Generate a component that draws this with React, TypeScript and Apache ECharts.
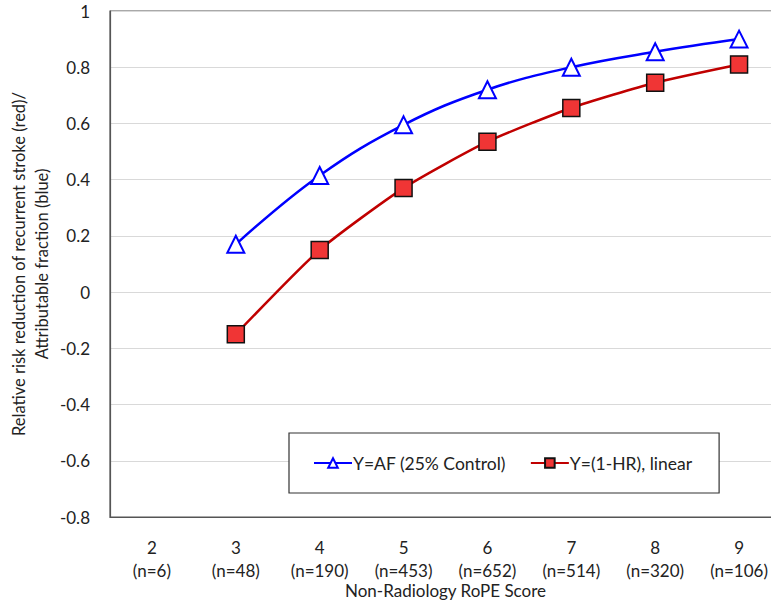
import React, { useEffect, useRef } from "react";
import * as echarts from "echarts";

const scores = ["2", "3", "4", "5", "6", "7", "8", "9"];
const counts = ["n=6", "n=48", "n=190", "n=453", "n=652", "n=514", "n=320", "n=106"];
const afValues: (number | null)[] = [null, 0.17, 0.415, 0.595, 0.72, 0.8, 0.855, 0.9];
const hrValues: (number | null)[] = [null, -0.15, 0.15, 0.37, 0.535, 0.655, 0.745, 0.81];
const seriesNames = ["Y=AF (25% Control)", "Y=(1-HR), linear"];

const FONT = "Lato, 'Open Sans', sans-serif";
const FS = 17;

export default function App() {
  const ref = useRef<HTMLDivElement>(null);
  useEffect(() => {
    document.body.style.margin = "0";
    if (!ref.current) return;
    const chart = echarts.init(ref.current, null, { renderer: "svg" });
    chart.setOption({
      animation: false,
      backgroundColor: "#ffffff",
      textStyle: { fontFamily: FONT },
      grid: {
        left: 110,
        top: 11,
        right: -10,
        bottom: 95,
        show: true,
        borderColor: "#555",
        borderWidth: 1.2,
        containLabel: false,
        outerBoundsMode: "none",
      },
      legend: {
        left: 289,
        top: 433,
        padding: [21, 27, 21, 24],
        itemGap: 24,
        itemWidth: 38,
        itemHeight: 12,
        backgroundColor: "#fff",
        borderColor: "#333",
        borderWidth: 1.2,
        textStyle: { fontSize: 17.5, color: "#222", fontFamily: FONT, padding: [0, 0, 0, -4] },
        data: seriesNames,
      },
      xAxis: {
        type: "category",
        data: scores.map((s, i) => s + "\n(" + counts[i] + ")"),
        boundaryGap: true,
        name: "Non-Radiology RoPE Score",
        nameLocation: "middle",
        nameGap: 65,
        nameMoveOverlap: false,
        nameTextStyle: { fontSize: FS, color: "#222", fontFamily: FONT },
        axisLine: { onZero: false, lineStyle: { color: "#555", width: 1.2 } },
        axisTick: { show: false },
        axisLabel: { fontSize: FS, color: "#222", lineHeight: 23, margin: 19, fontFamily: FONT },
        splitLine: { show: false },
      },
      yAxis: {
        type: "value",
        min: -0.8,
        max: 1,
        interval: 0.2,
        name: "Relative risk reduction of recurrent stroke (red)/\nAttributable fraction (blue)",
        nameLocation: "middle",
        nameGap: 57,
        nameMoveOverlap: false,
        nameRotate: 90,
        nameTextStyle: { fontSize: 16.5, color: "#222", lineHeight: 23, fontFamily: FONT },
        axisLine: { show: true, lineStyle: { color: "#555", width: 1.2 } },
        axisTick: { show: false },
        axisLabel: {
          fontSize: FS,
          color: "#222",
          margin: 20,
          fontFamily: FONT,
          formatter: (v: number) => String(Math.round(v * 10) / 10),
        },
        splitLine: { show: true, lineStyle: { color: "#d9d9d9", width: 1 } },
      },
      series: [
        {
          name: seriesNames[0],
          type: "line",
          data: afValues,
          smooth: 0.4,
          symbol: "triangle",
          symbolSize: 17,
          lineStyle: { color: "#0000ff", width: 2.5 },
          itemStyle: { color: "#ffffff", borderColor: "#0000ff", borderWidth: 2 },
          z: 3,
        },
        {
          name: seriesNames[1],
          type: "line",
          data: hrValues,
          smooth: 0.2,
          symbol: "rect",
          symbolSize: 17,
          lineStyle: { color: "#c00000", width: 2.5 },
          itemStyle: { color: "#f03535", borderColor: "#111", borderWidth: 1.5 },
          z: 4,
        },
      ],
    });
    return () => chart.dispose();
  }, []);
  return <div ref={ref} style={{ width: 771, height: 612 }} />;
}
